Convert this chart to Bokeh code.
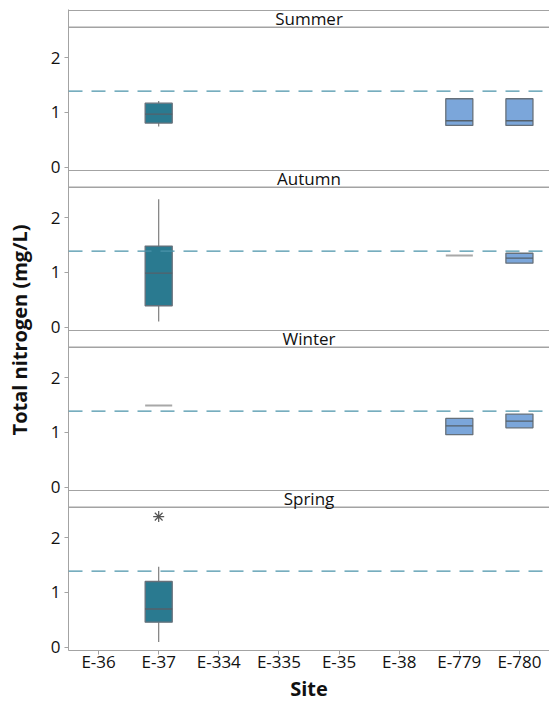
import math
from bokeh.plotting import figure
from bokeh.models import Span, Label, FixedTicker, ColumnDataSource, Range1d, FactorRange
from bokeh.transform import dodge
from bokeh.embed import file_html
from bokeh.resources import INLINE

# ---------------- data ----------------
sites = ["E-36", "E-37", "E-334", "E-335", "E-35", "E-38", "E-779", "E-780"]
seasons = ["Summer", "Autumn", "Winter", "Spring"]
threshold = 1.39
y_ticks = [0, 1, 2]

summer_site = ["E-37", "E-779", "E-780"]
summer_lo = [0.745, 0.764, 0.764]
summer_q1 = [0.807, 0.764, 0.764]
summer_med = [0.97, 0.85, 0.85]
summer_q3 = [1.17, 1.25, 1.25]
summer_hi = [1.207, 1.25, 1.25]

autumn_site = ["E-37", "E-779", "E-780"]
autumn_lo = [0.11, 1.31, 1.17]
autumn_q1 = [0.395, 1.31, 1.17]
autumn_med = [0.99, 1.31, 1.26]
autumn_q3 = [1.48, 1.31, 1.35]
autumn_hi = [2.33, 1.31, 1.35]

winter_site = ["E-37", "E-779", "E-780"]
winter_lo = [1.49, 0.96, 1.085]
winter_q1 = [1.49, 0.96, 1.085]
winter_med = [1.49, 1.12, 1.205]
winter_q3 = [1.49, 1.255, 1.335]
winter_hi = [1.49, 1.255, 1.335]

spring_site = ["E-37"]
spring_lo = [0.10]
spring_q1 = [0.46]
spring_med = [0.70]
spring_q3 = [1.20]
spring_hi = [1.47]

spring_outlier_site = ["E-37"]
spring_outlier_val = [2.38]

panels = {
    "Summer": (summer_site, summer_lo, summer_q1, summer_med, summer_q3, summer_hi),
    "Autumn": (autumn_site, autumn_lo, autumn_q1, autumn_med, autumn_q3, autumn_hi),
    "Winter": (winter_site, winter_lo, winter_q1, winter_med, winter_q3, winter_hi),
    "Spring": (spring_site, spring_lo, spring_q1, spring_med, spring_q3, spring_hi),
}
outliers = {"Spring": (spring_outlier_site, spring_outlier_val)}

# ---------------- style / layout ----------------
FONT = "Open Sans"
GRAY = "#a3a3a3"
TEAL = "#2a7a90"
BLUE = "#7ba6da"
Y_LO, Y_HI, HEADER = -0.055, 2.855, 2.55     # per-panel value range, header line
PH = Y_HI - Y_LO                              # panel height in value units
N = len(seasons)
PX_PER_UNIT = 640 / (N * PH)

p = figure(width=549, height=706, x_range=FactorRange(*sites),
           y_range=Range1d(0, N * PH + 1.0 / PX_PER_UNIT),
           output_backend="svg", toolbar_location=None,
           min_border_left=68, min_border_right=0, min_border_top=9, min_border_bottom=56)
p.outline_line_color = None
p.xgrid.visible = False
p.ygrid.visible = False
p.background_fill_color = "white"
p.border_fill_color = "white"

offsets = [(N - 1 - i) * PH - Y_LO for i in range(N)]

# y axis: 0,1,2 in every panel
tick_pos = []
overrides = {}
for off in offsets:
    for t in y_ticks:
        tick_pos.append(off + t)
        overrides[off + t] = str(t)
ya = p.yaxis[0]
ya.ticker = FixedTicker(ticks=tick_pos)
ya.major_label_overrides = overrides
ya.axis_line_color = GRAY
ya.major_tick_line_color = GRAY
ya.major_tick_out = 4
ya.major_tick_in = 0
ya.minor_tick_line_color = None
ya.major_label_text_font = FONT
ya.major_label_text_font_size = "17px"
ya.major_label_text_color = "#111111"
ya.major_label_standoff = 4
ya.axis_label = "Total nitrogen (mg/L)"
ya.axis_label_text_font = FONT
ya.axis_label_text_font_size = "20px"
ya.axis_label_text_font_style = "bold"
ya.axis_label_text_color = "#111111"
ya.axis_label_standoff = 15

xa = p.xaxis[0]
xa.axis_line_color = GRAY
xa.major_tick_line_color = GRAY
xa.major_tick_out = 4
xa.major_tick_in = 0
xa.minor_tick_line_color = None
xa.major_label_text_font = FONT
xa.major_label_text_font_size = "17px"
xa.major_label_text_color = "#111111"
xa.major_label_standoff = -5
xa.axis_label = "Site"
xa.axis_label_text_font = FONT
xa.axis_label_text_font_size = "20px"
xa.axis_label_text_font_style = "bold"
xa.axis_label_text_color = "#111111"
xa.axis_label_standoff = -1

# frame lines: top and separators
for k in range(1, N + 1):
    p.add_layout(Span(location=k * PH, dimension="width", line_color=GRAY, line_width=1))

for i, season in enumerate(seasons):
    off = offsets[i]
    # header
    p.add_layout(Span(location=off + HEADER, dimension="width", line_color=GRAY, line_width=1.5))
    p.add_layout(Label(x=4.0, y=off + (HEADER + Y_HI) / 2, text=season, text_font=FONT,
                       text_font_size="17px", text_align="center",
                       text_baseline="middle", text_color="#111111"))
    # threshold
    p.add_layout(Span(location=off + threshold, dimension="width", line_color="#4a93a9",
                      line_width=1.2, line_dash="14 9"))

    site, lo, q1, med, q3, hi = panels[season]
    single = [a == b for a, b in zip(q1, q3)]
    src = ColumnDataSource(dict(
        site=site, lo=lo, q1=q1, med=med, q3=q3, hi=hi,
        fill=[None if s else (TEAL if st == "E-37" else BLUE) for s, st in zip(single, site)],
        line=["#a8a8a8" if s else "#66707a" for s in single],
        lw=[2 if s else 1.3 for s in single],
        medc=[None if s else "#55606a" for s in single],
    ))
    p.segment(x0="site", y0=dodge("lo", off), x1="site", y1=dodge("q1", off), source=src,
              line_color="#7d7d7d", line_width=1.2)
    p.segment(x0="site", y0=dodge("q3", off), x1="site", y1=dodge("hi", off), source=src,
              line_color="#7d7d7d", line_width=1.2)
    p.vbar(x="site", width=0.45, bottom=dodge("q1", off), top=dodge("q3", off), source=src,
           fill_color="fill", line_color="line", line_width="lw")
    p.vbar(x="site", width=0.45, bottom=dodge("med", off), top=dodge("med", off), source=src,
           fill_color=None, line_color="medc", line_width=1.3)

    if season in outliers:
        osite, oval = outliers[season]
        osrc = ColumnDataSource(dict(site=osite, val=oval))
        p.scatter(x="site", y=dodge("val", off), source=osrc, marker="asterisk",
                  size=11, line_color="#555555", line_width=1.2)

open("out.html", "w").write(file_html(p, INLINE))
